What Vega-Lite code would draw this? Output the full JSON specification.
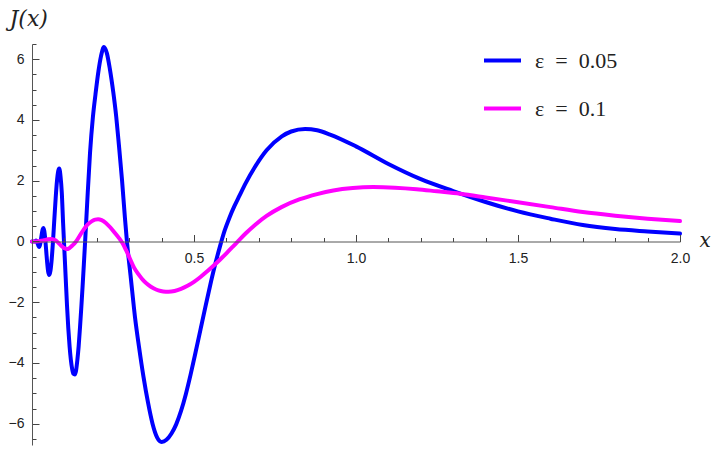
{
  "$schema": "https://vega.github.io/schema/vega-lite/v6.json",
  "width": 648,
  "height": 401,
  "autosize": {"type": "none"},
  "padding": {"left": 32, "top": 44, "right": 39, "bottom": 6},
  "background": "white",
  "config": {
    "view": {"stroke": null},
    "axis": {"domainColor": "#555555", "tickColor": "#444444", "labelColor": "#222222", "labelFont": "Liberation Sans", "labelFontSize": 14, "grid": false}
  },
  "data": {
    "values": [
      {"s": "ε = 0.05", "x": 0, "y": 0},
      {"s": "ε = 0.05", "x": 0.008, "y": 0},
      {"s": "ε = 0.05", "x": 0.013, "y": 0.03},
      {"s": "ε = 0.05", "x": 0.017, "y": -0.06},
      {"s": "ε = 0.05", "x": 0.02, "y": -0.15},
      {"s": "ε = 0.05", "x": 0.022, "y": -0.18},
      {"s": "ε = 0.05", "x": 0.025, "y": -0.1},
      {"s": "ε = 0.05", "x": 0.028, "y": 0.09},
      {"s": "ε = 0.05", "x": 0.031, "y": 0.3},
      {"s": "ε = 0.05", "x": 0.033, "y": 0.4},
      {"s": "ε = 0.05", "x": 0.035, "y": 0.44},
      {"s": "ε = 0.05", "x": 0.038, "y": 0.34},
      {"s": "ε = 0.05", "x": 0.041, "y": 0.06},
      {"s": "ε = 0.05", "x": 0.044, "y": -0.33},
      {"s": "ε = 0.05", "x": 0.047, "y": -0.72},
      {"s": "ε = 0.05", "x": 0.05, "y": -1.0},
      {"s": "ε = 0.05", "x": 0.053, "y": -1.1},
      {"s": "ε = 0.05", "x": 0.057, "y": -0.96},
      {"s": "ε = 0.05", "x": 0.061, "y": -0.56},
      {"s": "ε = 0.05", "x": 0.065, "y": 0.04},
      {"s": "ε = 0.05", "x": 0.069, "y": 0.74},
      {"s": "ε = 0.05", "x": 0.073, "y": 1.42},
      {"s": "ε = 0.05", "x": 0.077, "y": 1.98},
      {"s": "ε = 0.05", "x": 0.081, "y": 2.32},
      {"s": "ε = 0.05", "x": 0.084, "y": 2.4},
      {"s": "ε = 0.05", "x": 0.088, "y": 2.15},
      {"s": "ε = 0.05", "x": 0.092, "y": 1.6},
      {"s": "ε = 0.05", "x": 0.096, "y": 0.6},
      {"s": "ε = 0.05", "x": 0.1, "y": -0.3},
      {"s": "ε = 0.05", "x": 0.104, "y": -1.2},
      {"s": "ε = 0.05", "x": 0.108, "y": -2.1},
      {"s": "ε = 0.05", "x": 0.112, "y": -2.85},
      {"s": "ε = 0.05", "x": 0.116, "y": -3.45},
      {"s": "ε = 0.05", "x": 0.12, "y": -3.9},
      {"s": "ε = 0.05", "x": 0.124, "y": -4.2},
      {"s": "ε = 0.05", "x": 0.128, "y": -4.36},
      {"s": "ε = 0.05", "x": 0.132, "y": -4.38},
      {"s": "ε = 0.05", "x": 0.136, "y": -4.25},
      {"s": "ε = 0.05", "x": 0.14, "y": -3.9},
      {"s": "ε = 0.05", "x": 0.144, "y": -3.45},
      {"s": "ε = 0.05", "x": 0.148, "y": -2.85},
      {"s": "ε = 0.05", "x": 0.152, "y": -2.2},
      {"s": "ε = 0.05", "x": 0.156, "y": -1.5},
      {"s": "ε = 0.05", "x": 0.16, "y": -0.76},
      {"s": "ε = 0.05", "x": 0.164, "y": 0},
      {"s": "ε = 0.05", "x": 0.17, "y": 1.2},
      {"s": "ε = 0.05", "x": 0.179, "y": 2.9},
      {"s": "ε = 0.05", "x": 0.188, "y": 4.1},
      {"s": "ε = 0.05", "x": 0.196, "y": 4.85},
      {"s": "ε = 0.05", "x": 0.205, "y": 5.6},
      {"s": "ε = 0.05", "x": 0.213, "y": 6.1},
      {"s": "ε = 0.05", "x": 0.222, "y": 6.4},
      {"s": "ε = 0.05", "x": 0.231, "y": 6.2},
      {"s": "ε = 0.05", "x": 0.24, "y": 5.7},
      {"s": "ε = 0.05", "x": 0.251, "y": 4.9},
      {"s": "ε = 0.05", "x": 0.26, "y": 4.1},
      {"s": "ε = 0.05", "x": 0.268, "y": 3.2},
      {"s": "ε = 0.05", "x": 0.278, "y": 2.0},
      {"s": "ε = 0.05", "x": 0.287, "y": 0.75},
      {"s": "ε = 0.05", "x": 0.293, "y": 0},
      {"s": "ε = 0.05", "x": 0.305, "y": -1.2},
      {"s": "ε = 0.05", "x": 0.318, "y": -2.5},
      {"s": "ε = 0.05", "x": 0.33, "y": -3.45},
      {"s": "ε = 0.05", "x": 0.344, "y": -4.45},
      {"s": "ε = 0.05", "x": 0.358, "y": -5.3},
      {"s": "ε = 0.05", "x": 0.372, "y": -6.0},
      {"s": "ε = 0.05", "x": 0.386, "y": -6.45},
      {"s": "ε = 0.05", "x": 0.4, "y": -6.6},
      {"s": "ε = 0.05", "x": 0.415, "y": -6.53},
      {"s": "ε = 0.05", "x": 0.43, "y": -6.33},
      {"s": "ε = 0.05", "x": 0.445, "y": -6.02},
      {"s": "ε = 0.05", "x": 0.46, "y": -5.58},
      {"s": "ε = 0.05", "x": 0.475, "y": -5.02},
      {"s": "ε = 0.05", "x": 0.49, "y": -4.36},
      {"s": "ε = 0.05", "x": 0.505, "y": -3.64},
      {"s": "ε = 0.05", "x": 0.52, "y": -2.9},
      {"s": "ε = 0.05", "x": 0.535, "y": -2.16},
      {"s": "ε = 0.05", "x": 0.55, "y": -1.44},
      {"s": "ε = 0.05", "x": 0.565, "y": -0.77},
      {"s": "ε = 0.05", "x": 0.58, "y": -0.17},
      {"s": "ε = 0.05", "x": 0.595, "y": 0.37},
      {"s": "ε = 0.05", "x": 0.61, "y": 0.8},
      {"s": "ε = 0.05", "x": 0.625, "y": 1.17},
      {"s": "ε = 0.05", "x": 0.64, "y": 1.5},
      {"s": "ε = 0.05", "x": 0.66, "y": 1.93},
      {"s": "ε = 0.05", "x": 0.688, "y": 2.45},
      {"s": "ε = 0.05", "x": 0.724, "y": 3.0},
      {"s": "ε = 0.05", "x": 0.771, "y": 3.46},
      {"s": "ε = 0.05", "x": 0.8, "y": 3.62},
      {"s": "ε = 0.05", "x": 0.843, "y": 3.7},
      {"s": "ε = 0.05", "x": 0.88, "y": 3.66},
      {"s": "ε = 0.05", "x": 0.92, "y": 3.52},
      {"s": "ε = 0.05", "x": 1.0, "y": 3.13},
      {"s": "ε = 0.05", "x": 1.1, "y": 2.55},
      {"s": "ε = 0.05", "x": 1.2, "y": 2.05},
      {"s": "ε = 0.05", "x": 1.3, "y": 1.66},
      {"s": "ε = 0.05", "x": 1.4, "y": 1.3},
      {"s": "ε = 0.05", "x": 1.5, "y": 0.99},
      {"s": "ε = 0.05", "x": 1.6, "y": 0.75},
      {"s": "ε = 0.05", "x": 1.7, "y": 0.54},
      {"s": "ε = 0.05", "x": 1.8, "y": 0.41},
      {"s": "ε = 0.05", "x": 1.9, "y": 0.33},
      {"s": "ε = 0.05", "x": 2.0, "y": 0.26},
      {"s": "ε = 0.1", "x": 0, "y": 0},
      {"s": "ε = 0.1", "x": 0.02, "y": 0.01},
      {"s": "ε = 0.1", "x": 0.035, "y": 0.03},
      {"s": "ε = 0.1", "x": 0.05, "y": 0.07},
      {"s": "ε = 0.1", "x": 0.061, "y": 0.08},
      {"s": "ε = 0.1", "x": 0.072, "y": 0.04},
      {"s": "ε = 0.1", "x": 0.082, "y": -0.05},
      {"s": "ε = 0.1", "x": 0.092, "y": -0.16},
      {"s": "ε = 0.1", "x": 0.1, "y": -0.22},
      {"s": "ε = 0.1", "x": 0.107, "y": -0.25},
      {"s": "ε = 0.1", "x": 0.115, "y": -0.22},
      {"s": "ε = 0.1", "x": 0.125, "y": -0.13},
      {"s": "ε = 0.1", "x": 0.136, "y": 0},
      {"s": "ε = 0.1", "x": 0.148, "y": 0.2},
      {"s": "ε = 0.1", "x": 0.16, "y": 0.4},
      {"s": "ε = 0.1", "x": 0.172, "y": 0.56},
      {"s": "ε = 0.1", "x": 0.185, "y": 0.67},
      {"s": "ε = 0.1", "x": 0.195, "y": 0.72},
      {"s": "ε = 0.1", "x": 0.204, "y": 0.73},
      {"s": "ε = 0.1", "x": 0.215, "y": 0.7},
      {"s": "ε = 0.1", "x": 0.228, "y": 0.61},
      {"s": "ε = 0.1", "x": 0.242, "y": 0.46},
      {"s": "ε = 0.1", "x": 0.256, "y": 0.28},
      {"s": "ε = 0.1", "x": 0.268, "y": 0.12},
      {"s": "ε = 0.1", "x": 0.28, "y": -0.07},
      {"s": "ε = 0.1", "x": 0.29, "y": -0.28},
      {"s": "ε = 0.1", "x": 0.302, "y": -0.56},
      {"s": "ε = 0.1", "x": 0.315, "y": -0.86},
      {"s": "ε = 0.1", "x": 0.33, "y": -1.1},
      {"s": "ε = 0.1", "x": 0.345, "y": -1.3},
      {"s": "ε = 0.1", "x": 0.36, "y": -1.44},
      {"s": "ε = 0.1", "x": 0.375, "y": -1.54},
      {"s": "ε = 0.1", "x": 0.39, "y": -1.61},
      {"s": "ε = 0.1", "x": 0.405, "y": -1.645},
      {"s": "ε = 0.1", "x": 0.421, "y": -1.655},
      {"s": "ε = 0.1", "x": 0.44, "y": -1.63},
      {"s": "ε = 0.1", "x": 0.46, "y": -1.56},
      {"s": "ε = 0.1", "x": 0.48, "y": -1.46},
      {"s": "ε = 0.1", "x": 0.5, "y": -1.33},
      {"s": "ε = 0.1", "x": 0.52, "y": -1.17},
      {"s": "ε = 0.1", "x": 0.54, "y": -0.99},
      {"s": "ε = 0.1", "x": 0.56, "y": -0.8},
      {"s": "ε = 0.1", "x": 0.58, "y": -0.6},
      {"s": "ε = 0.1", "x": 0.6, "y": -0.39},
      {"s": "ε = 0.1", "x": 0.62, "y": -0.17},
      {"s": "ε = 0.1", "x": 0.637, "y": 0.02},
      {"s": "ε = 0.1", "x": 0.66, "y": 0.27},
      {"s": "ε = 0.1", "x": 0.69, "y": 0.56},
      {"s": "ε = 0.1", "x": 0.724, "y": 0.84},
      {"s": "ε = 0.1", "x": 0.77, "y": 1.13},
      {"s": "ε = 0.1", "x": 0.827, "y": 1.39},
      {"s": "ε = 0.1", "x": 0.88, "y": 1.56},
      {"s": "ε = 0.1", "x": 0.93, "y": 1.68},
      {"s": "ε = 0.1", "x": 0.99, "y": 1.76},
      {"s": "ε = 0.1", "x": 1.053, "y": 1.79},
      {"s": "ε = 0.1", "x": 1.12, "y": 1.77},
      {"s": "ε = 0.1", "x": 1.187, "y": 1.72},
      {"s": "ε = 0.1", "x": 1.25, "y": 1.65},
      {"s": "ε = 0.1", "x": 1.321, "y": 1.57},
      {"s": "ε = 0.1", "x": 1.4, "y": 1.45},
      {"s": "ε = 0.1", "x": 1.5, "y": 1.29},
      {"s": "ε = 0.1", "x": 1.6, "y": 1.13},
      {"s": "ε = 0.1", "x": 1.7, "y": 0.97},
      {"s": "ε = 0.1", "x": 1.8, "y": 0.85},
      {"s": "ε = 0.1", "x": 1.9, "y": 0.75},
      {"s": "ε = 0.1", "x": 2.0, "y": 0.67}
    ]
  },
  "mark": {"type": "line", "strokeWidth": 4, "interpolate": "monotone", "strokeCap": "round", "strokeJoin": "round"},
  "encoding": {
    "x": {
      "field": "x", "type": "quantitative",
      "scale": {"domain": [0, 2], "nice": false, "zero": false},
      "axis": {
        "orient": "top",
        "offset": -197.5,
        "zindex": 1,
        "values": [0.1, 0.2, 0.3, 0.4, 0.5, 0.6, 0.7, 0.8, 0.9, 1.0, 1.1, 1.2, 1.3, 1.4, 1.5, 1.6, 1.7, 1.8, 1.9, 2.0],
        "labelExpr": "abs(datum.value*2 - round(datum.value*2)) < 0.001 ? format(datum.value, '.1f') : ''",
        "ticks": true,
        "tickColor": "#444444",
        "tickOpacity": 1,
        "tickWidth": 1,
        "tickSize": {"condition": {"test": "abs(datum.value*2 - round(datum.value*2)) < 0.001", "value": 7}, "value": 4},
        "labelPadding": -17,
        "labelBaseline": "top",
        "labelFlush": false,
        "labelOverlap": false,
        "labelBound": false,
        "title": "x",
        "titleFont": "DejaVu Serif",
        "titleFontStyle": "italic",
        "titleFontWeight": "normal",
        "titleFontSize": 20,
        "titleColor": "#222222",
        "titleAnchor": null,
        "titleAlign": "left",
        "titleBaseline": "alphabetic",
        "titleX": 667,
        "titleY": 5
      }
    },
    "y": {
      "field": "y", "type": "quantitative",
      "scale": {"domain": [-6.7, 6.5], "nice": false, "zero": false},
      "axis": {
        "orient": "right",
        "offset": -648,
        "zindex": 1,
        "values": [-6.5, -6, -5.5, -5, -4.5, -4, -3.5, -3, -2.5, -2, -1.5, -1, -0.5, 0, 0.5, 1, 1.5, 2, 2.5, 3, 3.5, 4, 4.5, 5, 5.5, 6, 6.5],
        "labelExpr": "abs(datum.value/2 - round(datum.value/2)) < 0.001 ? format(datum.value, 'd') : ''",
        "ticks": true,
        "tickColor": "#444444",
        "tickOpacity": 1,
        "tickWidth": 1,
        "tickSize": {"condition": {"test": "abs(datum.value/2 - round(datum.value/2)) < 0.001", "value": 7}, "value": 4},
        "labelPadding": -15,
        "labelAlign": "right",
        "labelFlush": false,
        "labelOverlap": false,
        "labelBound": false,
        "title": "J(x)",
        "titleFont": "DejaVu Serif",
        "titleFontStyle": "italic",
        "titleFontWeight": "normal",
        "titleFontSize": 22,
        "titleColor": "#222222",
        "titleAngle": 0,
        "titleAnchor": null,
        "titleAlign": "left",
        "titleBaseline": "alphabetic",
        "titleX": -23,
        "titleY": -19
      }
    },
    "color": {
      "field": "s", "type": "nominal",
      "scale": {"domain": ["ε = 0.05", "ε = 0.1"], "range": ["#0000ff", "#ff00ff"]},
      "legend": {
        "title": null,
        "orient": "none",
        "legendX": 450,
        "legendY": -4,
        "symbolType": "stroke",
        "symbolSize": 1369,
        "symbolStrokeWidth": 4,
        "labelFont": "Liberation Serif",
        "labelFontSize": 22,
        "labelColor": "#222222",
        "labelOffset": 12,
        "labelExpr": "replace(datum.label, ' = ', '\u2002=\u2002')",
        "rowPadding": 16
      }
    }
  }
}
